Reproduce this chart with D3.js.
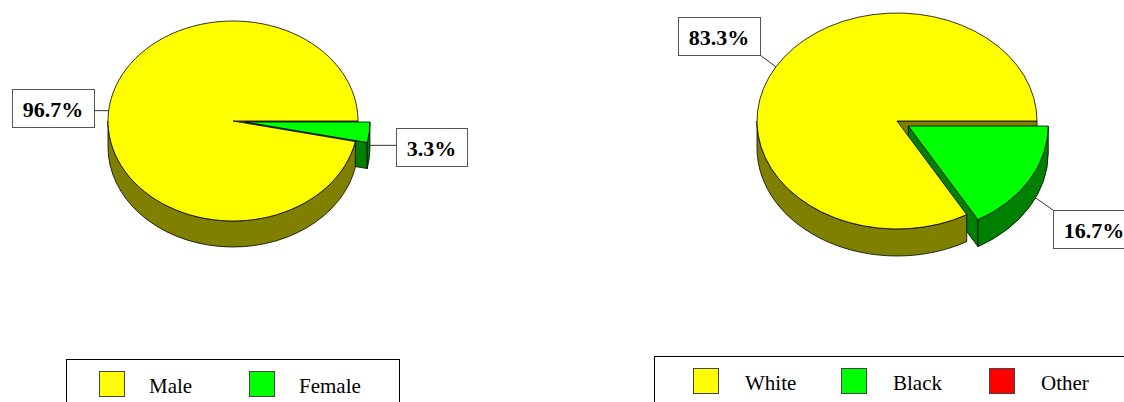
<!DOCTYPE html>
<html>
<head>
<meta charset="utf-8">
<title>Gender and race pies</title>
<script src="https://d3js.org/d3.v7.min.js"></script>
<style>
  body { margin: 0; background: #fff; }
  svg { display: block; }
</style>
</head>
<body>
<div id="chart"></div>
<script>
// data
const genderLabels = ["Male", "Female"];
const genderValues = [96.7, 3.3];
const raceLabels = ["White", "Black", "Other"];
const raceValues = [83.3, 16.7, 0];
const explodedSlices = ["Female", "Black"];

const topColors = ["#ffff00", "#00ff00", "#ff0000"];
const sideColors = ["#808000", "#008000", "#800000"];

const W = 1124, H = 402;
const font = "'Liberation Serif', 'Times New Roman', serif";

let svg = d3.select("#chart").append("svg")
    .attr("width", W)
    .attr("height", H);

let pies = [
  { labels: genderLabels, values: genderValues, cx: 233, cy: 121, rx: 125, ry: 100, depth: 26, explode: 12,
    boxes: [[12, 89], [396, 128]],
    legend: { x: 66, y: 359, w: 333, sx: 99, sy: 371, step: 150, gap: 50 } },
  { labels: raceLabels, values: raceValues, cx: 897, cy: 121, rx: 140, ry: 108, depth: 27, explode: 13,
    boxes: [[678, 17], [1053, 210], null],
    legend: { x: 654, y: 356, w: 520, sx: 693, sy: 368, step: 148, gap: 52 } }
];

pies.forEach(function(p) {
  let total = d3.sum(p.values);
  // first slice starts where the others end, so the small slices sit right after 3 o'clock
  let start = Math.PI / 2 + 2 * Math.PI * (total - p.values[0]) / total;
  let arcs = d3.pie().sort(null)
      .startAngle(start).endAngle(start + 2 * Math.PI)(p.values);

  arcs.forEach(function(a, i) {
    a.label = p.labels[i];
    a.mid = (a.startAngle + a.endAngle) / 2;
    let e = explodedSlices.includes(a.label) ? p.explode : 0;
    a.dx = e * Math.sin(a.mid);
    a.dy = -e * Math.cos(a.mid) * p.ry / p.rx;
  });

  function pt(a, ang, down) {
    return [p.cx + a.dx + p.rx * Math.sin(ang),
            p.cy + a.dy - p.ry * Math.cos(ang) + (down ? p.depth : 0)];
  }
  function ctr(a, down) {
    return [p.cx + a.dx, p.cy + a.dy + (down ? p.depth : 0)];
  }
  let g = svg.append("g");
  let drawn = arcs.filter(function(a) { return a.value > 0; });

  // radial faces that look toward the viewer
  let faces = [];
  drawn.forEach(function(a, i) {
    [[a.startAngle, Math.sin(a.startAngle) < -1e-6], [a.endAngle, Math.sin(a.endAngle) > 1e-6]]
      .forEach(function(f) {
        if (!f[1]) return;
        let pts = [ctr(a, false), pt(a, f[0], false), pt(a, f[0], true), ctr(a, true)];
        faces.push({ pts: pts, color: sideColors[a.index], depth: d3.mean(pts, function(q) { return q[1]; }) });
      });
  });
  faces.sort(function(u, v) { return u.depth - v.depth; });
  g.selectAll(".face").data(faces).enter().append("path")
      .attr("d", function(f) { return "M" + f.pts.join("L") + "Z"; })
      .attr("fill", function(f) { return f.color; })
      .attr("stroke", "#000")
      .attr("stroke-width", 0.8)
      .attr("stroke-linejoin", "round");

  // outer walls on the front half
  let walls = [];
  drawn.forEach(function(a) {
    for (let k = -1; k <= 2; k++) {
      let lo = Math.max(a.startAngle, Math.PI / 2 + 2 * k * Math.PI);
      let hi = Math.min(a.endAngle, 3 * Math.PI / 2 + 2 * k * Math.PI);
      if (hi - lo > 1e-6) walls.push({ a: a, lo: lo, hi: hi });
    }
  });
  g.selectAll(".wall").data(walls).enter().append("path")
      .attr("d", function(w) {
        let big = (w.hi - w.lo) > Math.PI ? 1 : 0;
        let s0 = pt(w.a, w.lo, false), e0 = pt(w.a, w.hi, false);
        let s1 = pt(w.a, w.lo, true), e1 = pt(w.a, w.hi, true);
        return "M" + s0 + "A" + p.rx + "," + p.ry + " 0 " + big + " 1 " + e0 +
               "L" + e1 + "A" + p.rx + "," + p.ry + " 0 " + big + " 0 " + s1 + "Z";
      })
      .attr("fill", function(w) { return sideColors[w.a.index]; })
      .attr("stroke", "#000")
      .attr("stroke-width", 0.8)
      .attr("stroke-linejoin", "round");

  // top faces
  g.selectAll(".top").data(drawn).enter().append("path")
      .attr("d", function(a) {
        let big = (a.endAngle - a.startAngle) > Math.PI ? 1 : 0;
        return "M" + ctr(a, false) + "L" + pt(a, a.startAngle, false) +
               "A" + p.rx + "," + p.ry + " 0 " + big + " 1 " + pt(a, a.endAngle, false) + "Z";
      })
      .attr("fill", function(a) { return topColors[a.index]; })
      .attr("stroke", "#000")
      .attr("stroke-width", 0.8)
      .attr("stroke-linejoin", "round");

  // percentage labels in boxes with leader lines
  drawn.forEach(function(a) {
    let b = p.boxes[a.index];
    if (!b) return;
    let wallSeen = Math.cos(a.mid) < 0;
    let anchor = pt(a, a.mid, false);
    if (wallSeen) anchor[1] += p.depth / 2;
    let txt = svg.append("text")
        .attr("font-family", font)
        .attr("font-weight", "bold")
        .attr("font-size", "22px")
        .attr("fill", "#000")
        .text(d3.format(".1f")(a.value / total * 100) + "%");
    let tw = txt.node().getComputedTextLength();
    let bw = Math.round(tw + 21), bh = 38;
    txt.attr("x", b[0] + bw / 2).attr("y", b[1] + 28).attr("text-anchor", "middle");
    let ex = Math.max(b[0], Math.min(b[0] + bw, anchor[0]));
    let ey = Math.max(b[1], Math.min(b[1] + bh, anchor[1]));
    svg.insert("line", "text")
        .attr("x1", anchor[0]).attr("y1", anchor[1])
        .attr("x2", ex).attr("y2", ey)
        .attr("stroke", "#333").attr("stroke-width", 1);
    svg.insert("rect", "text")
        .attr("x", b[0] + 0.5).attr("y", b[1] + 0.5)
        .attr("width", bw).attr("height", bh)
        .attr("fill", "#fff").attr("stroke", "#555").attr("stroke-width", 1);
  });

  // legend
  let L = p.legend;
  let lg = svg.append("g");
  lg.append("rect")
      .attr("x", L.x + 0.5).attr("y", L.y + 0.5)
      .attr("width", L.w).attr("height", 80)
      .attr("fill", "#fff").attr("stroke", "#000").attr("stroke-width", 1);
  p.labels.forEach(function(name, i) {
    lg.append("rect")
        .attr("x", L.sx + i * L.step + 0.5).attr("y", L.sy + 0.5)
        .attr("width", 25).attr("height", 25)
        .attr("fill", topColors[i]).attr("stroke", "#444").attr("stroke-width", 1);
    lg.append("text")
        .attr("x", L.sx + i * L.step + L.gap)
        .attr("y", L.sy + 22)
        .attr("font-family", font)
        .attr("font-size", "21px")
        .attr("fill", "#000")
        .text(name);
  });
});
</script>
</body>
</html>
